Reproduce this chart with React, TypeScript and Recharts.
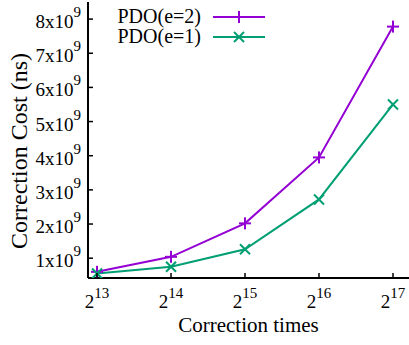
import React from "react";
import { LineChart, Line, XAxis, YAxis } from "recharts";

const exponents = [13, 14, 15, 16, 17];
const pdoE2 = [0.6e9, 1.04e9, 2.02e9, 3.95e9, 7.78e9];
const pdoE1 = [0.55e9, 0.75e9, 1.26e9, 2.72e9, 5.5e9];
const seriesNames = ["PDO(e=2)", "PDO(e=1)"];
const seriesColors = ["#9400d3", "#009e73"];
const yTicks = [1e9, 2e9, 3e9, 4e9, 5e9, 6e9, 7e9, 8e9];
const xTicks = [13, 14, 15, 16, 17];

const data = exponents.map((e, i) => ({ e, a: pdoE2[i], b: pdoE1[i] }));

const FONT = "'Liberation Serif', 'Times New Roman', serif";

const YTick = (props: any) => {
  const { x, y, payload } = props;
  const v = Math.round(payload.value / 1e9);
  return (
    <g>
      <line x1={x} y1={y} x2={x + 5} y2={y} stroke="#000" strokeWidth={1.5} />
      <text x={x - 7} y={y + 9} textAnchor="end" fontFamily={FONT} fontSize={19} fill="#000">
        <tspan>{`${v}x10`}</tspan>
        <tspan dy={-11} fontSize={15}>9</tspan>
      </text>
    </g>
  );
};

const XTick = (props: any) => {
  const { x, y, payload } = props;
  return (
    <g>
      <line x1={x} y1={y} x2={x} y2={y - 5} stroke="#000" strokeWidth={1.5} />
      <text x={x} y={y + 30} textAnchor="middle" fontFamily={FONT} fontSize={19} fill="#000">
        <tspan>2</tspan>
        <tspan dy={-10} fontSize={15}>{payload.value}</tspan>
      </text>
    </g>
  );
};

const TopTick = (props: any) => {
  const { x, y } = props;
  return <line x1={x} y1={y} x2={x} y2={y + 5} stroke="#000" strokeWidth={1.5} />;
};

const PlusDot = (props: any) => {
  const { cx, cy } = props;
  if (cx == null || cy == null) return null;
  return (
    <g>
      <line x1={cx - 6} y1={cy} x2={cx + 6} y2={cy} stroke={seriesColors[0]} strokeWidth={2} />
      <line x1={cx} y1={cy - 6} x2={cx} y2={cy + 6} stroke={seriesColors[0]} strokeWidth={2} />
    </g>
  );
};

const CrossDot = (props: any) => {
  const { cx, cy } = props;
  if (cx == null || cy == null) return null;
  return (
    <g>
      <line x1={cx - 5} y1={cy - 5} x2={cx + 5} y2={cy + 5} stroke={seriesColors[1]} strokeWidth={2} />
      <line x1={cx - 5} y1={cy + 5} x2={cx + 5} y2={cy - 5} stroke={seriesColors[1]} strokeWidth={2} />
    </g>
  );
};

const XLabel = (props: any) => {
  const { viewBox } = props;
  const cx = viewBox.x + (409 - viewBox.x) / 2;
  return (
    <text x={cx} y={332} textAnchor="middle" fontFamily={FONT} fontSize={21} fill="#000">
      Correction times
    </text>
  );
};

const YLabel = (props: any) => {
  const { viewBox } = props;
  const cy = viewBox.y + viewBox.height / 2 + 11;
  return (
    <text
      x={27}
      y={cy}
      transform={`rotate(-90, 27, ${cy})`}
      textAnchor="middle"
      fontFamily={FONT}
      fontSize={24}
      fill="#000"
    >
      Correction Cost (ns)
    </text>
  );
};

const LegendBox = () => (
  <svg
    width={280}
    height={50}
    style={{ position: "absolute", left: 0, top: 0, pointerEvents: "none" }}
  >
    {seriesNames.map((n, i) => {
      const y = 17 + i * 20;
      return (
        <g key={n}>
          <text x={201} y={y + 6} textAnchor="end" fontFamily={FONT} fontSize={20} fill="#000">
            {n}
          </text>
          <line x1={213} y1={y} x2={265} y2={y} stroke={seriesColors[i]} strokeWidth={2} />
          {i === 0 ? (
            <PlusDot cx={239} cy={y} />
          ) : (
            <CrossDot cx={239} cy={y} />
          )}
        </g>
      );
    })}
  </svg>
);

export default function App() {
  return (
    <div
      style={{
        position: "absolute",
        left: 0,
        top: 0,
        width: 409,
        height: 345,
        overflow: "hidden",
        background: "#fff",
      }}
    >
      <LineChart
        width={420}
        height={345}
        data={data}
        margin={{ top: 2, right: 0, bottom: 0, left: 8 }}
      >
        <XAxis
          dataKey="e"
          type="number"
          domain={[12.878, 17.365]}
          allowDataOverflow
          ticks={xTicks}
          tick={<XTick />}
          tickLine={false}
          tickSize={0}
          tickMargin={0}
          height={67}
          axisLine={{ stroke: "#000", strokeWidth: 2 }}
          label={<XLabel />}
        />
        <XAxis
          xAxisId="top"
          orientation="top"
          dataKey="e"
          type="number"
          domain={[12.878, 17.365]}
          allowDataOverflow
          ticks={xTicks}
          tick={<TopTick />}
          tickLine={false}
          tickSize={0}
          tickMargin={0}
          height={0}
          axisLine={{ stroke: "#000", strokeWidth: 2 }}
        />
        <YAxis
          type="number"
          domain={[0.42e9, 8.5e9]}
          allowDataOverflow
          ticks={yTicks}
          tick={<YTick />}
          tickLine={false}
          tickSize={0}
          tickMargin={0}
          width={80}
          axisLine={{ stroke: "#000", strokeWidth: 2 }}
          label={<YLabel />}
        />
        <Line
          dataKey="a"
          stroke={seriesColors[0]}
          strokeWidth={2}
          dot={<PlusDot />}
          isAnimationActive={false}
        />
        <Line
          dataKey="b"
          stroke={seriesColors[1]}
          strokeWidth={2}
          dot={<CrossDot />}
          isAnimationActive={false}
        />
      </LineChart>
      <LegendBox />
    </div>
  );
}
